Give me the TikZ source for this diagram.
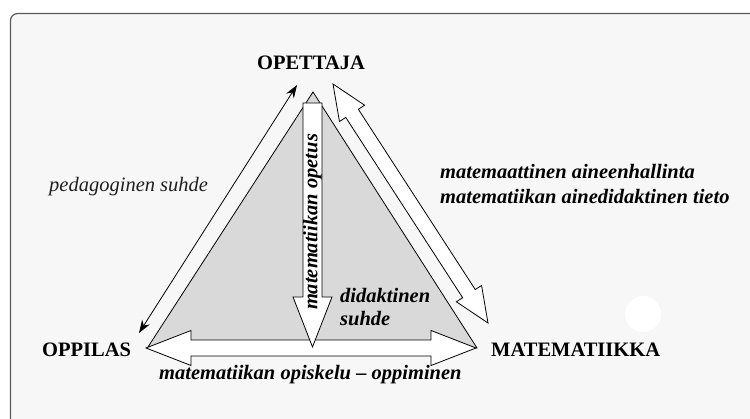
\documentclass[tikz,border=0pt]{standalone}
\usepackage{fontspec}
\setmainfont{Liberation Serif}
\usetikzlibrary{arrows.meta,calc}

\definecolor{panelbg}{HTML}{F7F7F7}
\definecolor{trifill}{HTML}{D9D9D9}

\newcommand{\fatdouble}[5]{%
  \filldraw[fatarrow] (#1) -- ($(#1)!#5!(#2)!#4!90:(#2)$) -- ($(#1)!#5!(#2)!#3!90:(#2)$)
    -- ($(#2)!#5!(#1)!#3!-90:(#1)$) -- ($(#2)!#5!(#1)!#4!-90:(#1)$) -- (#2)
    -- ($(#2)!#5!(#1)!#4!90:(#1)$) -- ($(#2)!#5!(#1)!#3!90:(#1)$)
    -- ($(#1)!#5!(#2)!#3!-90:(#2)$) -- ($(#1)!#5!(#2)!#4!-90:(#2)$) -- cycle;}
\newcommand{\fatsingle}[5]{%
  \filldraw[fatarrow] (#2) -- ($(#2)!#5!(#1)!#4!90:(#1)$) -- ($(#2)!#5!(#1)!#3!90:(#1)$)
    -- ($(#1)!#3!-90:(#2)$) -- ($(#1)!#3!90:(#2)$)
    -- ($(#2)!#5!(#1)!#3!-90:(#1)$) -- ($(#2)!#5!(#1)!#4!-90:(#1)$) -- cycle;}

\begin{document}
\begin{tikzpicture}[x=1pt, y=-1pt,
  corner/.style={inner sep=0pt, font=\fontsize{20.5}{25}\selectfont\bfseries},
  rel/.style={inner sep=0pt, font=\fontsize{20.5}{25}\selectfont\bfseries\itshape},
  fatarrow/.style={fill=white, draw=black, line width=0.8pt, line join=miter},
]
  \useasboundingbox (0,0) rectangle (750,419);
  \draw[black!65, line width=1.2pt, fill=panelbg, rounded corners=7pt] (10.5,13.5) rectangle (790,460);

  \coordinate (apex) at (313,92);
  \coordinate (lcorner) at (148,347);
  \coordinate (rcorner) at (477,348);
  \filldraw[fill=trifill, draw=black, line width=0.8pt] (apex) -- (lcorner) -- (rcorner) -- cycle;

  \coordinate (h1) at (146,348);
  \coordinate (h2) at (476,348);
  \coordinate (v1) at (312.5,103);
  \coordinate (v2) at (312.5,347);
  \coordinate (d1) at (333,84);
  \coordinate (d2) at (488,323);
  \coordinate (p1) at (139,333);
  \coordinate (p2) at (297,85);

  \fatdouble{h1}{h2}{8pt}{17.5pt}{45pt}
  \fatsingle{v1}{v2}{9.5pt}{19.5pt}{50pt}
  \fatdouble{d1}{d2}{7.5pt}{15pt}{35pt}
  \draw[{Stealth[length=13pt,width=9pt]}-{Stealth[length=13pt,width=9pt]}, line width=0.8pt] (p1) -- (p2);

  \node[corner, anchor=base] (opettaja) at (311,70) {OPETTAJA};
  \node[corner, anchor=base west] (oppilas) at (42,357) {OPPILAS};
  \node[corner, anchor=base west] (matematiikka) at (491,357) {MATEMATIIKKA};
  \node[rel, anchor=base west] (opiskelu) at (159,380) {matematiikan opiskelu -- oppiminen};
  \node[inner sep=0pt, font=\fontsize{20.5}{25}\selectfont\itshape, text=black!88, anchor=base west] (pedagog) at (49,192) {pedagoginen suhde};
  \node[rel, rotate=90] (opetus) at (312.5,222) {matematiikan opetus};
  \node[rel, align=left, anchor=north west] (didakt) at (340,288) {didaktinen\\[-2pt]suhde};
  \node[rel, align=left, anchor=north west] (ainetieto) at (440,164) {matemaattinen aineenhallinta\\matematiikan ainedidaktinen tieto};
  \fill[white] (643,314) circle[radius=18pt];
\end{tikzpicture}
\end{document}
